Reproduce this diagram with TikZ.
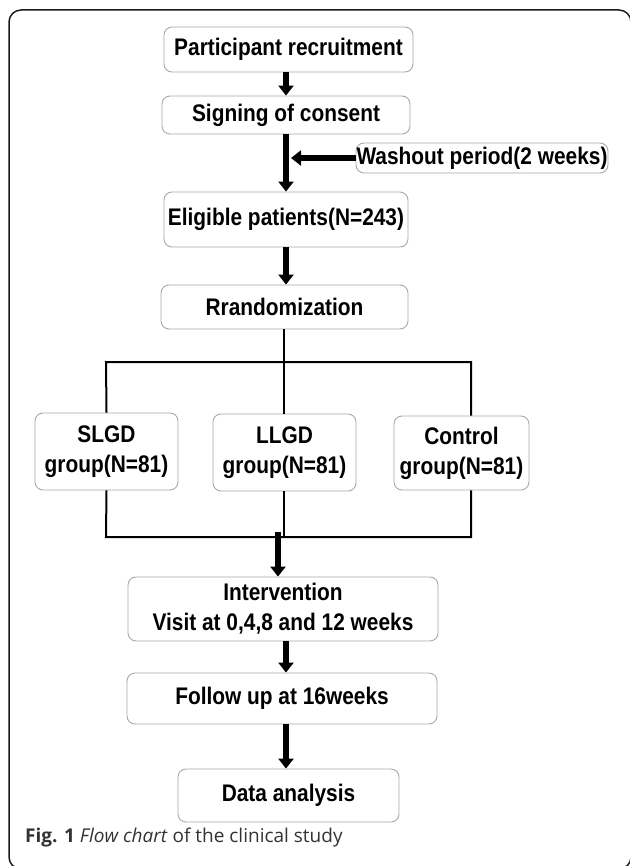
\documentclass[tikz,border=0pt]{standalone}
\usepackage{fontspec}
\setmainfont{Liberation Sans}
\newfontfamily\boxfont[FakeStretch=0.87]{Liberation Sans}
\newfontfamily\capfont{Open Sans}
\usepackage{xcolor}
\usepackage{tikz}
\usetikzlibrary{arrows.meta}
\definecolor{framec}{HTML}{1A1A1A}
\definecolor{edge}{HTML}{A8A8A8}
\definecolor{ink}{HTML}{000000}
\definecolor{captxt}{HTML}{333333}
\tikzset{
  box/.style={draw=edge, line width=0.9pt, rounded corners=8pt, inner sep=0pt, align=center, text=ink, font=\boxfont\bfseries\fontsize{24}{30}\selectfont},
  flow/.style={draw=ink, line width=6pt, -{Triangle[length=10pt,width=15pt]}},
  wire/.style={draw=ink, line width=2pt},
  frame/.style={draw=framec, line width=1.5pt, rounded corners=12pt},
  figcap/.style={text=captxt, inner sep=0pt, font=\capfont\fontsize{19}{22}\selectfont},
}

\begin{document}
\begin{tikzpicture}[x=1pt,y=-1pt]
  \useasboundingbox (0,0) rectangle (629,866);
  \draw[frame] (9,10) rectangle (631,869);

  \coordinate (mid) at (286,0);
  \coordinate (split) at (284,0);
  \coordinate (barL) at (106,362);
  \coordinate (barR) at (471,362);
  \coordinate (sumL) at (106,537);
  \coordinate (sumR) at (471,537);
  \coordinate (join) at (278,532);

  \node[box, minimum width=249pt, minimum height=45pt] (recruit) at (288.5,49.5) {Participant recruitment};
  \node[box, minimum width=248pt, minimum height=38pt] (consent) at (286,115) {Signing of consent};
  \node[box, minimum width=252pt, minimum height=30pt] (washout) at (482,158) {Washout period(2 weeks)};
  \node[box, minimum width=244pt, minimum height=55pt] (eligible) at (286,219.5) {Eligible patients(N=243)};
  \node[box, minimum width=247pt, minimum height=44pt] (random) at (284.5,307) {Rrandomization};
  \node[box, minimum width=143pt, minimum height=77pt] (slgd) at (106.5,451.5) {SLGD\\group(N=81)};
  \node[box, minimum width=143pt, minimum height=77pt] (llgd) at (284.5,452.5) {LLGD\\group(N=81)};
  \node[box, minimum width=135pt, minimum height=74pt] (control) at (461.5,453) {Control\\group(N=81)};
  \node[box, minimum width=310pt, minimum height=64pt] (interv) at (283,609) {Intervention\\Visit at 0,4,8 and 12 weeks};
  \node[box, minimum width=310pt, minimum height=51pt] (follow) at (282,698.5) {Follow up at 16weeks};
  \node[box, minimum width=221pt, minimum height=53pt] (data) at (288.5,795.5) {Data analysis};

  % main line
  \draw[flow] (recruit.south -| mid) -- (consent.north -| mid);
  \draw[flow] (consent.south -| mid) -- (eligible.north -| mid);
  \draw[flow] (washout.west) -- ([xshift=5pt]washout.west -| mid);
  \draw[flow] (eligible.south -| mid) -- (random.north -| mid);

  % three groups
  \draw[wire] (random.south -| split) -- (llgd.north -| split);
  \draw[wire] (slgd.north) -- (barL) -- (barR) -- (control.north -| barR);
  \draw[wire] (slgd.south) -- (sumL) -- (sumR) -- (control.south -| barR);
  \draw[wire] (llgd.south -| split) -- (sumL -| split);

  \draw[flow] (join) -- (interv.north -| join);
  \draw[flow] (interv.south -| mid) -- (follow.north -| mid);
  \draw[flow] (follow.south -| mid) -- (data.north -| mid);

  \node[figcap, anchor=west] (caption) at (25,838) {{\bfseries Fig. 1} \textit{Flow chart} of the clinical study};
\end{tikzpicture}
\end{document}
